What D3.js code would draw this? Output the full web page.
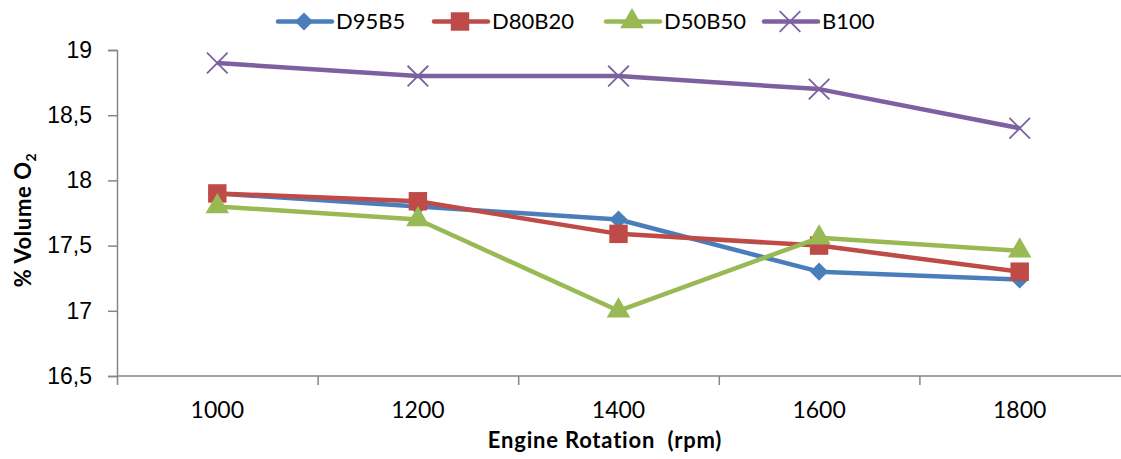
<!DOCTYPE html>
<html>
<head>
<meta charset="utf-8">
<script src="https://cdn.jsdelivr.net/npm/d3@7"></script>
<style>
  body { margin: 0; background: #fff; }
  svg { font-family: Lato, "Open Sans", sans-serif; }
</style>
</head>
<body>
<svg id="chart" width="1121" height="459"></svg>
<script>
const rpm = ['1000', '1200', '1400', '1600', '1800']
const d95b5 = [17.9, 17.8, 17.7, 17.3, 17.24]
const d80b20 = [17.9, 17.84, 17.59, 17.5, 17.3]
const d50b50 = [17.8, 17.7, 17.0, 17.56, 17.46]
const b100 = [18.9, 18.8, 18.8, 18.7, 18.4]
const yTicks = [16.5, 17, 17.5, 18, 18.5, 19]

const series = [
  {name: 'D95B5', values: d95b5, color: '#4A7EBB', marker: 'diamond'},
  {name: 'D80B20', values: d80b20, color: '#BE4B48', marker: 'square'},
  {name: 'D50B50', values: d50b50, color: '#98B954', marker: 'triangle'},
  {name: 'B100', values: b100, color: '#7D60A0', marker: 'cross'},
]

const svg = d3.select('#chart')
const axisColor = '#868686'

const x = d3.scaleBand().domain(rpm).range([117, 1120]).padding(0)
const y = d3.scaleLinear().domain([16.5, 19]).range([376, 50])
const fmt = (v) => d3.format('')(v).replace('.', ',')

// y axis
const yAxis = svg.append('g')
  .attr('transform', 'translate(117,0)')
  .call(d3.axisLeft(y).tickValues(yTicks).tickFormat(fmt).tickSize(9).tickPadding(16))
yAxis.select('.domain').attr('stroke', axisColor).attr('stroke-width', 1.5)
yAxis.selectAll('.tick line').attr('stroke', axisColor).attr('stroke-width', 1.5)
yAxis.selectAll('.tick text').attr('font-size', 23).attr('fill', '#000')

// x axis (ticks on band boundaries)
const xAxis = svg.append('g').attr('transform', 'translate(0,376)')
xAxis.append('line')
  .attr('x1', 117).attr('x2', 1121)
  .attr('stroke', axisColor).attr('stroke-width', 1.5)
xAxis.selectAll('.xtick')
  .data(rpm)
  .join('line')
  .attr('class', 'xtick')
  .attr('x1', (d) => x(d) + 0.5).attr('x2', (d) => x(d) + 0.5)
  .attr('y1', 0).attr('y2', 9)
  .attr('stroke', axisColor).attr('stroke-width', 1.5)
xAxis.selectAll('.xlabel')
  .data(rpm)
  .join('text')
  .attr('class', 'xlabel')
  .attr('x', (d) => x(d) + x.bandwidth() / 2)
  .attr('y', 42)
  .attr('text-anchor', 'middle')
  .attr('font-size', 23)
  .text((d) => d)

// axis titles
svg.append('text')
  .attr('x', 605).attr('y', 448)
  .attr('text-anchor', 'middle')
  .attr('font-size', 22).attr('font-weight', 'bold')
  .attr('letter-spacing', 0.8)
  .attr('xml:space', 'preserve')
  .text('Engine Rotation  (rpm)')

const yTitle = svg.append('text')
  .attr('transform', 'translate(31,220) rotate(-90)')
  .attr('text-anchor', 'middle')
  .attr('font-size', 22).attr('font-weight', 'bold')
  .attr('letter-spacing', 0.6)
yTitle.append('tspan').text('% Volume O')
yTitle.append('tspan').attr('font-size', 14).attr('dy', 5).text('2')

const symbols = {
  diamond: d3.symbol().type(d3.symbolDiamond2).size(210),
  square: d3.symbol().type(d3.symbolSquare).size(340),
  triangle: d3.symbol().type(d3.symbolTriangle).size(240),
  cross: d3.symbol().type(d3.symbolX).size(280),
}

function drawMarker(g, s) {
  if (s.marker === 'cross') {
    g.append('path').attr('d', symbols.cross()).attr('fill', 'none')
      .attr('stroke', s.color).attr('stroke-width', 1.8)
  } else {
    g.append('path').attr('d', symbols[s.marker]()).attr('fill', s.color)
  }
}

const line = d3.line()
  .x((d, i) => x(rpm[i]) + x.bandwidth() / 2)
  .y((d) => y(d))

const plot = svg.append('g')
series.forEach((s) => {
  plot.append('path')
    .datum(s.values)
    .attr('d', line)
    .attr('fill', 'none')
    .attr('stroke', s.color)
    .attr('stroke-width', 4.5)
    .attr('stroke-linejoin', 'round')
  s.values.forEach((v, i) => {
    const g = plot.append('g')
      .attr('transform', `translate(${x(rpm[i]) + x.bandwidth() / 2},${y(v)})`)
    drawMarker(g, s)
  })
})

// legend
const legendX = [278, 434, 606, 764]
const legend = svg.append('g').attr('transform', 'translate(0,21.5)')
series.forEach((s, i) => {
  const g = legend.append('g').attr('transform', `translate(${legendX[i]},0)`)
  g.append('line').attr('x1', 0).attr('x2', 54)
    .attr('stroke', s.color).attr('stroke-width', 4.5).attr('stroke-linecap', 'round')
  const m = g.append('g').attr('transform', 'translate(26,0)')
  drawMarker(m, s)
  g.append('text').attr('x', 58).attr('dy', '0.36em')
    .attr('font-size', 22).text(s.name)
})
</script>
</body>
</html>
